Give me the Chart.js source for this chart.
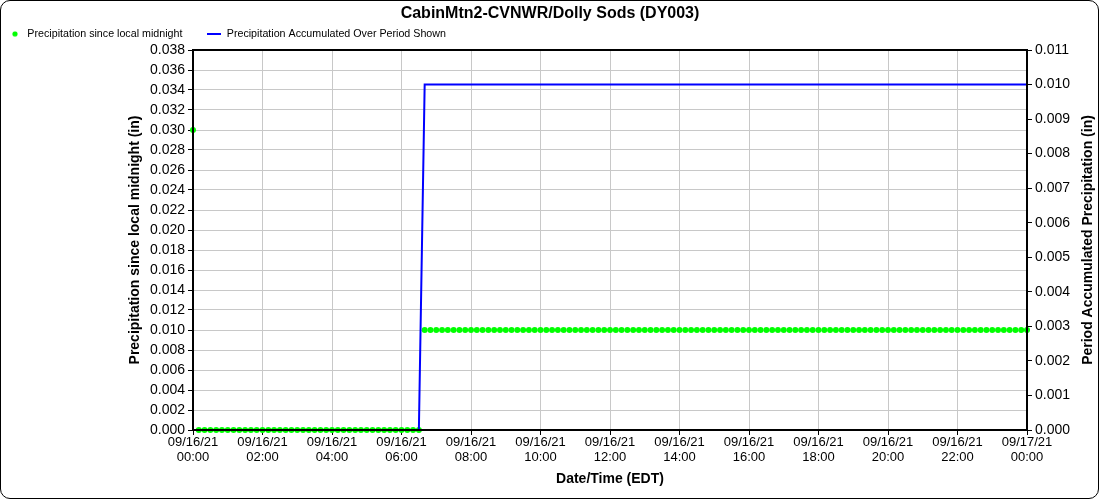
<!DOCTYPE html>
<html><head><meta charset="utf-8">
<script src="https://cdn.jsdelivr.net/npm/chart.js@4.4.0/dist/chart.umd.min.js"></script>
<style>
html,body{margin:0;padding:0;background:#fff;}
#wrap{position:relative;width:1100px;height:500px;}
#frame{position:absolute;left:0;top:0;width:1099px;height:499px;box-sizing:border-box;border:1px solid #000;border-radius:10px;pointer-events:none;}
canvas{position:absolute;left:0;top:0;}
</style></head><body>
<div id="wrap"><canvas id="c" width="1100" height="500"></canvas><div id="frame"></div></div>
<script>
// ---- data ----
const CHART_TITLE = 'CabinMtn2-CVNWR/Dolly Sods (DY003)';
const SERIES_GREEN = 'Precipitation since local midnight';
const SERIES_BLUE = 'Precipitation Accumulated Over Period Shown';
const X_TITLE = 'Date/Time (EDT)';
const Y_LEFT_TITLE = 'Precipitation since local midnight (in)';
const Y_RIGHT_TITLE = 'Period Accumulated Precipitation (in)';
const INTERVAL_MIN = 10; // observations every 10 minutes starting 09/16/21 00:00

// Precipitation since local midnight (in), one value per 10 min, 00:00 .. 24:00
const sinceMidnight = [
  0.030,0,0,0,0,0,0,0,0,0,0,0,
  0,0,0,0,0,0,0,0,0,0,0,0,
  0,0,0,0,0,0,0,0,0,0,0,0,
  0,0,0,0,0.01,0.01,0.01,0.01,0.01,0.01,0.01,0.01,
  0.01,0.01,0.01,0.01,0.01,0.01,0.01,0.01,0.01,0.01,0.01,0.01,
  0.01,0.01,0.01,0.01,0.01,0.01,0.01,0.01,0.01,0.01,0.01,0.01,
  0.01,0.01,0.01,0.01,0.01,0.01,0.01,0.01,0.01,0.01,0.01,0.01,
  0.01,0.01,0.01,0.01,0.01,0.01,0.01,0.01,0.01,0.01,0.01,0.01,
  0.01,0.01,0.01,0.01,0.01,0.01,0.01,0.01,0.01,0.01,0.01,0.01,
  0.01,0.01,0.01,0.01,0.01,0.01,0.01,0.01,0.01,0.01,0.01,0.01,
  0.01,0.01,0.01,0.01,0.01,0.01,0.01,0.01,0.01,0.01,0.01,0.01,
  0.01,0.01,0.01,0.01,0.01,0.01,0.01,0.01,0.01,0.01,0.01,0.01,
  0.01
];
// Precipitation accumulated over period shown (in)
const accumulated = [
  0,0,0,0,0,0,0,0,0,0,0,0,
  0,0,0,0,0,0,0,0,0,0,0,0,
  0,0,0,0,0,0,0,0,0,0,0,0,
  0,0,0,0,0.01,0.01,0.01,0.01,0.01,0.01,0.01,0.01,
  0.01,0.01,0.01,0.01,0.01,0.01,0.01,0.01,0.01,0.01,0.01,0.01,
  0.01,0.01,0.01,0.01,0.01,0.01,0.01,0.01,0.01,0.01,0.01,0.01,
  0.01,0.01,0.01,0.01,0.01,0.01,0.01,0.01,0.01,0.01,0.01,0.01,
  0.01,0.01,0.01,0.01,0.01,0.01,0.01,0.01,0.01,0.01,0.01,0.01,
  0.01,0.01,0.01,0.01,0.01,0.01,0.01,0.01,0.01,0.01,0.01,0.01,
  0.01,0.01,0.01,0.01,0.01,0.01,0.01,0.01,0.01,0.01,0.01,0.01,
  0.01,0.01,0.01,0.01,0.01,0.01,0.01,0.01,0.01,0.01,0.01,0.01,
  0.01,0.01,0.01,0.01,0.01,0.01,0.01,0.01,0.01,0.01,0.01,0.01,
  0.01
];
const xTickDates = ['09/16/21','09/16/21','09/16/21','09/16/21','09/16/21','09/16/21','09/16/21',
                    '09/16/21','09/16/21','09/16/21','09/16/21','09/16/21','09/17/21'];
const xTickTimes = ['00:00','02:00','04:00','06:00','08:00','10:00','12:00',
                    '14:00','16:00','18:00','20:00','22:00','00:00'];

// ---- styling ----
const GREEN = '#00ff00';
const BLUE = '#0000ff';
const GRID = '#c8c8c8';
Chart.defaults.font.family = '"Liberation Sans", Arial, sans-serif';
Chart.defaults.color = '#000';

function makeDot(){ const c=document.createElement('canvas'); c.width=6;c.height=6; const g=c.getContext('2d'); g.fillStyle=GREEN; g.beginPath(); g.arc(3,3,2.6,0,Math.PI*2); g.fill(); return c; }
function makeLine(){ const c=document.createElement('canvas'); c.width=14;c.height=2; const g=c.getContext('2d'); g.fillStyle=BLUE; g.fillRect(0,0,14,2); return c; }
const greenIcon = makeDot();
const blueIcon = makeLine();

const legendTweak = {
  id: 'legendTweak',
  beforeLayout(chart){
    const lg = chart.legend;
    if (lg && !lg._patched){
      const f = lg.fit;
      lg.fit = function(){ f.call(this); this.height = 26.8; };
      lg._patched = true;
    }
  },
  afterLayout(chart){
    const lg = chart.legend;
    if (lg){ lg.top = 3.5; lg.bottom = 50; }
  }
};
const rightTitle = {
  id: 'rightTitle',
  afterDraw(chart){
    const s = chart.scales.y1; const ctx = chart.ctx;
    ctx.save();
    ctx.translate(s.right - 29, (s.top + s.bottom)/2);
    ctx.rotate(-Math.PI/2);
    ctx.font = 'bold 14px "Liberation Sans", Arial, sans-serif';
    ctx.fillStyle = '#000'; ctx.textAlign = 'center'; ctx.textBaseline = 'middle';
    ctx.fillText(Y_RIGHT_TITLE, 0, 0);
    ctx.restore();
  }
};

new Chart(document.getElementById('c'), {
  type: 'line',
  data: {
    datasets: [
      { label: SERIES_GREEN, data: sinceMidnight.map((v,i)=>({x:i*INTERVAL_MIN, y:v})),
        yAxisID:'y', xAxisID:'x', showLine:false, pointRadius:3, pointBorderWidth:0,
        pointBackgroundColor:GREEN, borderColor:GREEN, backgroundColor:GREEN, order:1, clip:false },
      { label: SERIES_BLUE, data: accumulated.map((v,i)=>({x:i*INTERVAL_MIN, y:v})),
        yAxisID:'y1', xAxisID:'x', borderColor:BLUE, backgroundColor:BLUE, borderWidth:2,
        pointRadius:0, tension:0, order:0 }
    ]
  },
  options: {
    responsive:false, animation:false, devicePixelRatio:1,
    layout:{ padding:{ left:-17, right:-17, top:0, bottom:0 } },
    plugins:{
      tooltip:{ enabled:false },
      title:{ display:true, text:CHART_TITLE, color:'#000', font:{ size:16, weight:'bold', lineHeight:1.2 }, padding:{ top:4, bottom:0 } },
      legend:{ display:true, position:'top', align:'start',
        labels:{ usePointStyle:true, pointStyleWidth:14, padding:25, color:'#000', font:{ size:10.7 },
          sort:(a,b)=>a.datasetIndex-b.datasetIndex,
          generateLabels(chart){
            const items = Chart.defaults.plugins.legend.labels.generateLabels(chart);
            items.forEach(it=>{ it.pointStyle = it.datasetIndex===0 ? greenIcon : blueIcon; it.lineWidth = 0; });
            return items;
          } } }
    },
    scales:{
      x:{ type:'linear', position:'bottom', min:0, max:1440,
        ticks:{ stepSize:120, autoSkip:false, maxRotation:0, padding:0, color:'#000', font:{ size:13, lineHeight:1.16 },
          callback:(v,i)=>[xTickDates[i], xTickTimes[i]] },
        grid:{ color:GRID, tickColor:'#000', tickLength:5, lineWidth:1 },
        border:{ color:'#000', width:2, z:1 },
        title:{ display:true, text:X_TITLE, color:'#000', font:{ size:14, weight:'bold' }, padding:{ top:0, bottom:12.6 } },
        afterFit(s){ s.height = 70; } },
      xTop:{ type:'linear', position:'top', min:0, max:1440,
        ticks:{ display:false }, grid:{ drawOnChartArea:false, drawTicks:false },
        border:{ color:'#000', width:2, z:1 },
        afterFit(s){ s.height = 0; } },
      y:{ type:'linear', position:'left', min:0, max:0.038,
        ticks:{ stepSize:0.002, color:'#000', font:{ size:14 }, padding:3, callback:v=>Number(v).toFixed(3) },
        grid:{ color:GRID, tickColor:'#000', tickLength:5 },
        border:{ color:'#000', width:2, z:1 },
        title:{ display:true, text:Y_LEFT_TITLE, color:'#000', font:{ size:14, weight:'bold' }, padding:{ top:143.6, bottom:0 } },
        afterFit(s){ s.width = 210; } },
      y1:{ type:'linear', position:'right', min:0, max:0.011,
        ticks:{ stepSize:0.001, color:'#000', font:{ size:14 }, padding:3, callback:v=>Number(v).toFixed(3) },
        grid:{ drawOnChartArea:false, tickColor:'#000', tickLength:5 },
        border:{ color:'#000', width:2, z:1 },
        title:{ display:false },
        afterFit(s){ s.width = 90; } }
    }
  },
  plugins:[legendTweak, rightTitle]
});
</script></body></html>
